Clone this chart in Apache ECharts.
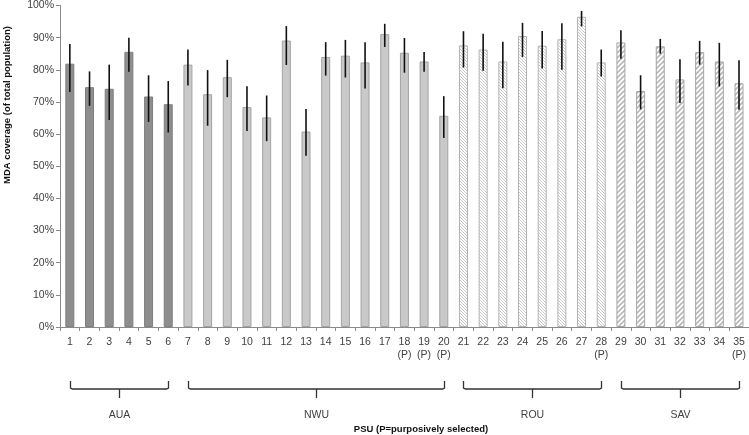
<!DOCTYPE html>
<html>
<head>
<meta charset="utf-8">
<script src="https://cdn.jsdelivr.net/npm/echarts@6/dist/echarts.min.js"></script>
<style>html,body{margin:0;padding:0;background:#fff}#c{width:749px;height:435px}</style>
</head>
<body>
<div id="c"></div>
<script>
const categories = ['1','2','3','4','5','6','7','8','9','10','11','12','13','14','15','16','17','18\n(P)','19\n(P)','20\n(P)','21','22','23','24','25','26','27','28\n(P)','29','30','31','32','33','34','35\n(P)'];
const values  = [81.9,74.6,74.1,85.6,71.7,69.3,81.6,72.4,77.7,68.4,65.2,89.1,60.8,84.0,84.4,82.3,91.1,85.3,82.6,65.7,87.6,86.3,82.6,90.5,87.5,89.5,96.5,82.3,88.5,73.4,87.3,77.0,85.5,82.6,75.8];
const errLow  = [73.1,68.8,64.4,79.4,63.8,60.5,75.1,62.6,71.5,61.0,57.8,81.5,53.3,78.2,77.6,74.2,87.1,79.1,79.4,58.8,80.7,79.7,74.3,84.0,80.4,80.0,93.5,77.9,83.4,67.7,85.0,69.7,81.6,74.8,67.6];
const errHigh = [88.0,79.5,81.6,90.0,78.3,76.5,86.3,79.9,83.1,74.9,72.0,93.6,67.8,88.6,89.3,88.6,94.3,89.9,85.5,71.8,92.0,91.2,88.7,94.6,92.1,94.5,98.3,86.3,92.3,78.3,89.6,83.3,89.0,88.4,83.0];
const regions = ['AUA','AUA','AUA','AUA','AUA','AUA','NWU','NWU','NWU','NWU','NWU','NWU','NWU','NWU','NWU','NWU','NWU','NWU','NWU','NWU','ROU','ROU','ROU','ROU','ROU','ROU','ROU','ROU','SAV','SAV','SAV','SAV','SAV','SAV','SAV'];
const groupNames = ['AUA','NWU','ROU','SAV'];
const groupStart = [0,6,20,28];
const groupEnd   = [5,19,27,34];
const yTicks = [0,10,20,30,40,50,60,70,80,90,100];

function hatch(size, dir, lw, color){
  const c = document.createElement('canvas');
  c.width = size; c.height = size;
  const g = c.getContext('2d');
  g.fillStyle = '#ffffff'; g.fillRect(0,0,size,size);
  g.strokeStyle = color; g.lineWidth = lw;
  const s = size;
  g.beginPath();
  if (dir === '/') {
    g.moveTo(-1, s+1); g.lineTo(s+1, -1);
    g.moveTo(-1, 1); g.lineTo(1, -1);
    g.moveTo(s-1, s+1); g.lineTo(s+1, s-1);
  } else {
    g.moveTo(-1, -1); g.lineTo(s+1, s+1);
    g.moveTo(-1, s-1); g.lineTo(1, s+1);
    g.moveTo(s-1, -1); g.lineTo(s+1, 1);
  }
  g.stroke();
  return c;
}
const styles = {
  AUA: {color:'#8e8e8e', borderColor:'#7f7f7f', borderWidth:1},
  NWU: {color:'#c9c9c9', borderColor:'#a3a3a3', borderWidth:1},
  ROU: {color:{image:hatch(3,'\\',0.9,'#c2c2c2'), repeat:'repeat'}, borderColor:'#b3b3b3', borderWidth:1},
  SAV: {color:{image:hatch(5,'/',1.6,'#b8b8b8'), repeat:'repeat'}, borderColor:'#a6a6a6', borderWidth:1}
};

const barData = values.map((v,i)=>({value:v, itemStyle:styles[regions[i]]}));
const errData = values.map((v,i)=>[i, errLow[i], errHigh[i]]);
const bracketData = groupNames.map((n,i)=>[groupStart[i], groupEnd[i], 0]);

const chart = echarts.init(document.getElementById('c'), null, {renderer:'canvas'});
const fontFam = '"Liberation Sans", Arial, sans-serif';
chart.setOption({
  animation:false,
  grid:{left:60, right:0, top:5, bottom:108, containLabel:false},
  xAxis:{
    type:'category', data:categories, boundaryGap:true,
    axisLine:{lineStyle:{color:'#8a8a8a', width:1}},
    axisTick:{show:true, length:4, lineStyle:{color:'#8a8a8a'}},
    axisLabel:{interval:0, color:'#404040', fontSize:10.5, fontFamily:fontFam, margin:9, lineHeight:13}
  },
  yAxis:{
    type:'value', min:0, max:100, interval:10,
    axisLine:{show:true, lineStyle:{color:'#8a8a8a', width:1}},
    axisTick:{show:true, length:4, lineStyle:{color:'#8a8a8a'}},
    splitLine:{show:false},
    axisLabel:{color:'#404040', fontSize:10.5, fontFamily:fontFam, margin:6, formatter: v => yTicks.includes(v) ? v + '%' : ''}
  },
  series:[
    {type:'bar', data:barData, barWidth:9, z:2},
    {type:'custom', data:errData, encode:{x:0, y:[1,2]}, z:5,
      renderItem:(params, api)=>{
        const p1 = api.coord([api.value(0), api.value(1)]);
        const p2 = api.coord([api.value(0), api.value(2)]);
        return {type:'line', shape:{x1:p1[0], y1:p1[1], x2:p2[0], y2:p2[1]}, style:{stroke:'#111', lineWidth:1.6}};
      }},
    {type:'custom', data:bracketData, encode:{x:[0,1], y:2}, clip:false, silent:true,
      renderItem:(params, api)=>{
        const a = api.coord([api.value(0), 0]);
        const b = api.coord([api.value(1), 0]);
        const base = a[1];
        const top = base + 54, line = base + 62, tip = base + 71;
        const mid = Math.round((a[0] + b[0]) / 2) + 0.5;
        const x1 = Math.round(a[0]) + 0.5, x2 = Math.round(b[0]) + 0.5;
        return {type:'group', children:[
          {type:'polyline', shape:{points:[[x1, top],[x1, line-1],[x1+2, line],[x2-2, line],[x2, line-1],[x2, top]]}, style:{stroke:'#333', lineWidth:1.3, fill:null}},
          {type:'line', shape:{x1:mid, y1:line, x2:mid, y2:tip}, style:{stroke:'#333', lineWidth:1.3}},
          {type:'text', x:mid, y:base + 88, style:{text:groupNames[params.dataIndex], fill:'#404040', font:'10.5px ' + fontFam, align:'center', verticalAlign:'middle'}}
        ]};
      }}
  ],
  graphic:[
    {type:'text', x:7, y:105, rotation:Math.PI/2, style:{text:'MDA coverage (of total population)', fill:'#111', font:'bold 9.5px ' + fontFam, align:'center', verticalAlign:'middle'}},
    {type:'text', x:421, y:429, style:{text:'PSU (P=purposively selected)', fill:'#111', font:'bold 9.5px ' + fontFam, align:'center', verticalAlign:'middle'}}
  ]
});
</script>
</body>
</html>
